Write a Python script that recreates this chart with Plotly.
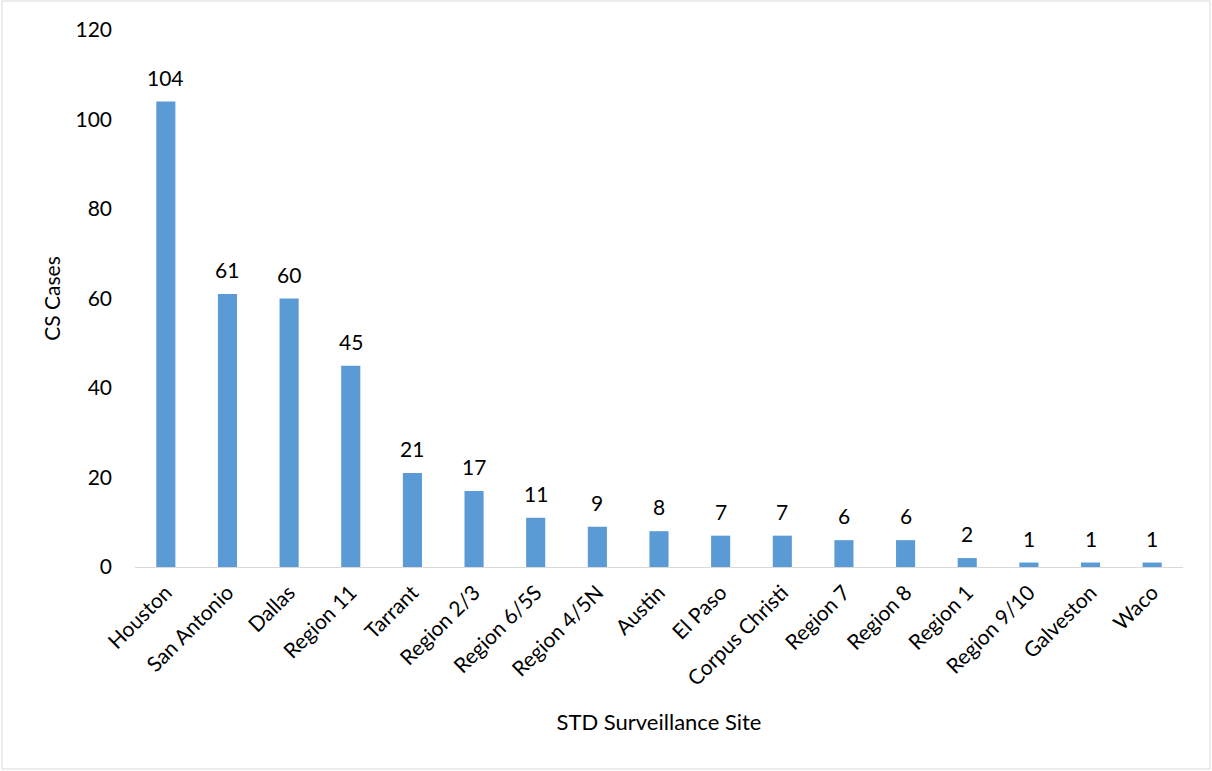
import plotly.graph_objects as go

sites = ["Houston", "San Antonio", "Dallas", "Region 11", "Tarrant", "Region 2/3",
         "Region 6/5S", "Region 4/5N", "Austin", "El Paso", "Corpus Christi",
         "Region 7", "Region 8", "Region 1", "Region 9/10", "Galveston", "Waco"]
cs_cases = [104, 61, 60, 45, 21, 17, 11, 9, 8, 7, 7, 6, 6, 2, 1, 1, 1]
y_ticks = [0, 20, 40, 60, 80, 100, 120]

FONT = "Lato, Carlito, Calibri, sans-serif"
W, H = 1212, 771
L, R, T, B = 135, 29, 30, 204

fig = go.Figure(go.Bar(
    x=sites, y=cs_cases,
    marker=dict(color="#5B9BD5", line=dict(width=0)),
    hoverinfo="x+y",
))

# value labels above each bar
for s, v in zip(sites, cs_cases):
    fig.add_annotation(x=s, y=v, text=str(v), showarrow=False,
                       yanchor="bottom", yshift=10,
                       font=dict(family=FONT, size=21, color="#000000"))

pw = W - L - R
ph = H - T - B
# light frame around the whole chart
fig.add_shape(type="rect", xref="paper", yref="paper",
              x0=(2 - L) / pw, x1=(1210 - L) / pw,
              y0=(H - B - 769) / ph, y1=(H - B - 1) / ph,
              line=dict(color="#D9D9D9", width=1), fillcolor="rgba(0,0,0,0)",
              layer="below")

fig.update_layout(
    width=W, height=H,
    margin=dict(l=L, r=R, t=T, b=B, pad=0),
    paper_bgcolor="white", plot_bgcolor="white",
    bargap=0.69,
    showlegend=False,
    font=dict(family=FONT, size=21, color="#000000"),
    xaxis=dict(
        tickangle=-45, showgrid=False, showline=True, linecolor="#D9D9D9",
        linewidth=1, ticks="", ticklabelstandoff=4,
        tickfont=dict(family=FONT, size=21),
        title=dict(text="STD Surveillance Site", font=dict(family=FONT, size=22),
                   standoff=25),
        fixedrange=True,
    ),
    yaxis=dict(
        range=[0, 120], tickvals=y_ticks, showgrid=False, zeroline=False,
        showline=False, ticks="", ticklabelstandoff=22,
        tickfont=dict(family=FONT, size=21),
        title=dict(text="CS Cases", font=dict(family=FONT, size=21), standoff=9),
        fixedrange=True,
    ),
)

fig.write_html("out.html")
